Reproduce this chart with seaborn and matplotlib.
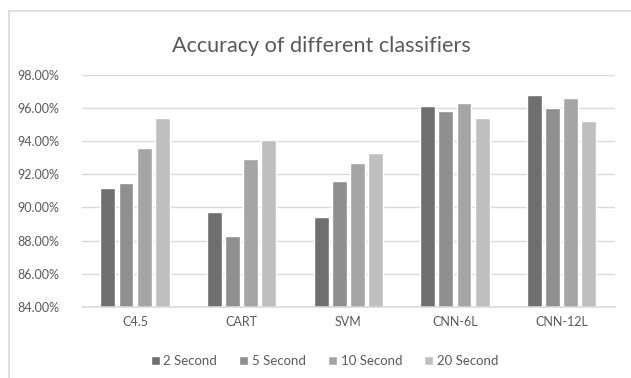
import matplotlib
matplotlib.use("Agg")
import matplotlib.pyplot as plt
from matplotlib.lines import Line2D
from matplotlib.ticker import FuncFormatter
import seaborn as sns
import pandas as pd

classifiers = ["C4.5", "CART", "SVM", "CNN-6L", "CNN-12L"]
durations = ["2 Second", "5 Second", "10 Second", "20 Second"]
acc_2s = [91.2, 89.7, 89.4, 96.1, 96.8]
acc_5s = [91.5, 88.3, 91.6, 95.8, 96.0]
acc_10s = [93.6, 92.9, 92.7, 96.3, 96.6]
acc_20s = [95.4, 94.1, 93.3, 95.4, 95.2]
yticks = [84, 86, 88, 90, 92, 94, 96, 98]

colors = ["#6f6f6f", "#8f8f8f", "#a5a5a5", "#bfbfbf"]
text_color = "#595959"
grid_color = "#d9d9d9"

rows = []
for dur, vals in zip(durations, [acc_2s, acc_5s, acc_10s, acc_20s]):
    for clf, v in zip(classifiers, vals):
        rows.append({"Classifier": clf, "Duration": dur, "Accuracy": v})
df = pd.DataFrame(rows)

sns.set_theme(style="white")
plt.rcParams["font.family"] = ["Lato", "DejaVu Sans"]

fig = plt.figure(figsize=(6.31, 3.78), dpi=100)
ax = fig.add_axes([0.1295, 0.1886, 0.845, 0.613])

sns.barplot(data=df, x="Classifier", y="Accuracy", hue="Duration",
            order=classifiers, hue_order=durations, palette=colors,
            width=0.68, gap=0.18, saturation=1, ax=ax, legend=True)

ax.set_ylim(84, 98)
ax.set_yticks(yticks)
ax.yaxis.set_major_formatter(FuncFormatter(lambda v, p: f"{v:.2f}%"))
ax.set_xlim(-0.5, len(classifiers) - 0.5)
ax.set_xlabel("")
ax.set_ylabel("")
ax.grid(axis="y", color=grid_color, linewidth=1)
ax.set_axisbelow(True)
for side in ["top", "right", "left"]:
    ax.spines[side].set_visible(False)
ax.spines["bottom"].set_color(grid_color)
ax.spines["bottom"].set_linewidth(1.2)
ax.tick_params(axis="both", length=0, labelsize=9, colors=text_color)
ax.tick_params(axis="y", pad=16)
ax.tick_params(axis="x", pad=7)

handles, labels = ax.get_legend_handles_labels()
ax.get_legend().remove()
fig.legend(handles, labels, loc="center", bbox_to_anchor=(0.514, 0.045),
           ncol=4, frameon=False, fontsize=9.5, handlelength=0.68,
           handleheight=0.68, handletextpad=0.3, columnspacing=1.65,
           labelcolor=text_color)

fig.text(0.5095, 1 - 52.3 / 378, "Accuracy of different classifiers",
         ha="center", va="baseline", fontsize=15.6, color=text_color)

# chart area border
fig.add_artist(Line2D([8.5 / 631, 1], [1 - 11 / 378, 1 - 11 / 378],
                      transform=fig.transFigure, color="#d9d9d9", linewidth=1.2))
fig.add_artist(Line2D([8.5 / 631, 8.5 / 631], [0, 1 - 11 / 378],
                      transform=fig.transFigure, color="#d9d9d9", linewidth=1.2))

fig.savefig("out.png", dpi=100, facecolor="white")
